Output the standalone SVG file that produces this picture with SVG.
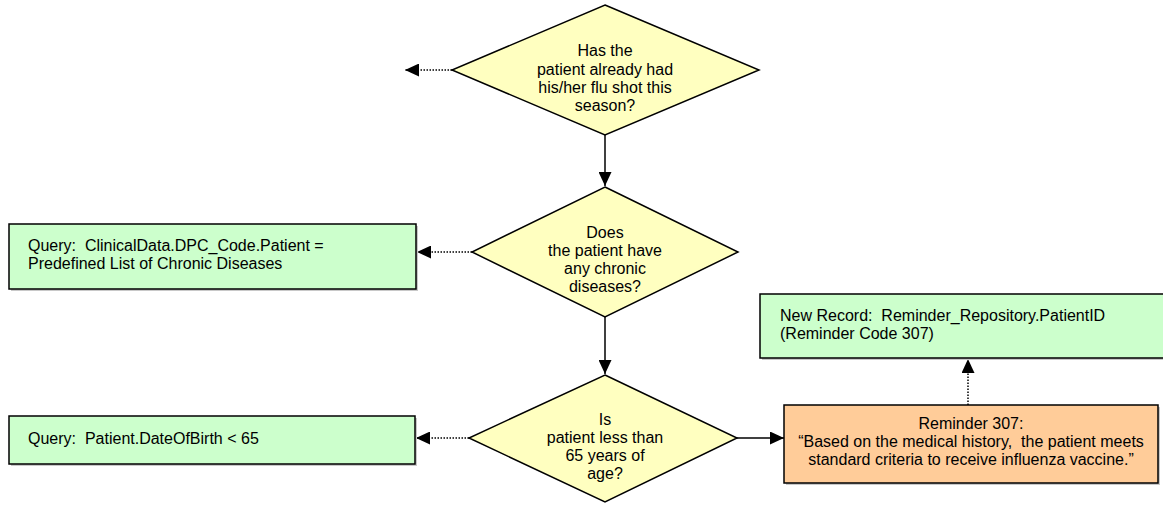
<svg xmlns="http://www.w3.org/2000/svg" width="1163" height="508" viewBox="0 0 1163 508" xml:space="preserve">
<style>
.dia{fill:#FFFFC0;stroke:#000;stroke-width:1.5}
.grn{fill:#CCFFCC;stroke:#000;stroke-width:1.5}
.org{fill:#FFCC99;stroke:#000;stroke-width:1.5}
.sh{fill:#C8C8C8}
.t{font-family:"Liberation Sans",Arial,sans-serif;font-size:16px;fill:#000;white-space:pre}
.c{text-anchor:middle}
.solid{stroke:#000;stroke-width:1.5;fill:none}
.dot{stroke:#000;stroke-width:1.5;fill:none;stroke-dasharray:1.5 1.5}
</style>
<defs>
<marker id="ahs" viewBox="0 0 14 13" refX="14" refY="6.5" markerWidth="14" markerHeight="13" markerUnits="userSpaceOnUse" orient="auto">
<path d="M0,0 L14,6.5 L0,13 z" fill="#000"/>
</marker>
</defs>
<g id="connectors">
<line class="dot" x1="452" y1="70" x2="405" y2="70" marker-end="url(#ahs)"/>
<line class="solid" x1="605" y1="135" x2="605" y2="186" marker-end="url(#ahs)"/>
<line class="dot" x1="472" y1="252" x2="417" y2="252" marker-end="url(#ahs)"/>
<line class="solid" x1="605" y1="317" x2="605" y2="374" marker-end="url(#ahs)"/>
<line class="dot" x1="469" y1="438" x2="416" y2="438" marker-end="url(#ahs)"/>
<line class="solid" x1="737" y1="438" x2="784" y2="438" marker-end="url(#ahs)"/>
<line class="dot" x1="968" y1="405" x2="968" y2="359" marker-end="url(#ahs)"/>
</g>
<g id="d1">
<polygon class="dia" points="605,5 759,70 605,135 452,70"/>
<text class="t c" x="605" y="56">Has the</text>
<text class="t c" x="605" y="75">patient already had</text>
<text class="t c" x="605" y="93">his/her flu shot this</text>
<text class="t c" x="605" y="111">season?</text>
</g>
<g id="d2">
<polygon class="dia" points="605,187 738,252 605,317 472,252"/>
<text class="t c" x="605" y="238">Does</text>
<text class="t c" x="605" y="256">the patient have</text>
<text class="t c" x="605" y="274">any chronic</text>
<text class="t c" x="605" y="292">diseases?</text>
</g>
<g id="d3">
<polygon class="dia" points="605,375 737,438 605,502 469,438"/>
<text class="t c" x="605" y="425">Is</text>
<text class="t c" x="605" y="443">patient less than</text>
<text class="t c" x="605" y="461">65 years of</text>
<text class="t c" x="605" y="479">age?</text>
</g>
<g id="q1">
<rect class="sh" x="11" y="226" width="407" height="65"/>
<rect class="grn" x="9" y="224" width="407" height="65"/>
<text class="t" x="28" y="251">Query:  ClinicalData.DPC_Code.Patient =</text>
<text class="t" x="28" y="269">Predefined List of Chronic Diseases</text>
</g>
<g id="q2">
<rect class="sh" x="11" y="418" width="406" height="48"/>
<rect class="grn" x="9" y="416" width="406" height="48"/>
<text class="t" x="28" y="444">Query:  Patient.DateOfBirth &lt; 65</text>
</g>
<g id="rec">
<rect class="sh" x="762" y="296" width="410" height="64"/>
<rect class="grn" x="760" y="294" width="410" height="64"/>
<text class="t" x="780" y="321">New Record:  Reminder_Repository.PatientID</text>
<text class="t" x="780" y="339">(Reminder Code 307)</text>
</g>
<g id="rem">
<rect class="sh" x="786" y="407" width="374" height="78"/>
<rect class="org" x="784" y="405" width="374" height="78"/>
<text class="t c" x="971" y="429">Reminder 307:</text>
<text class="t c" x="971" y="447">“Based on the medical history,  the patient meets</text>
<text class="t c" x="971" y="465">standard criteria to receive influenza vaccine.”</text>
</g>
</svg>
